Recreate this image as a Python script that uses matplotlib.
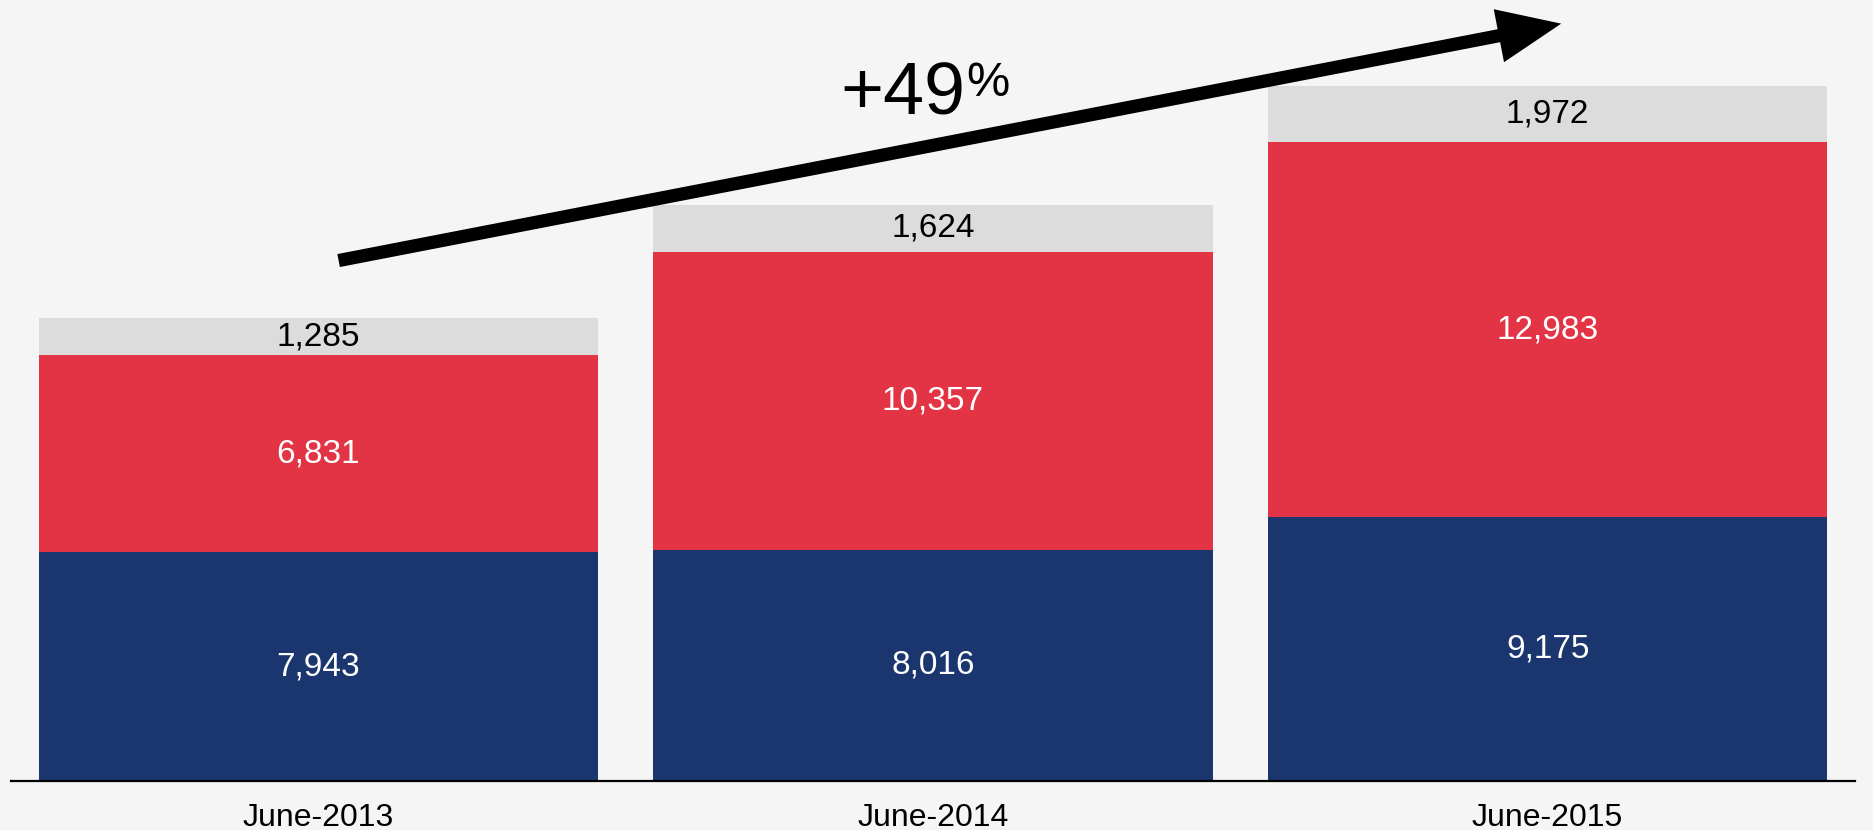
import numpy as np
import matplotlib
matplotlib.use("Agg")
import matplotlib.pyplot as plt
from matplotlib.patches import FancyArrowPatch

plt.rcParams['font.family'] = ['Liberation Sans', 'DejaVu Sans']

# data
periods = ["June-2013", "June-2014", "June-2015"]
blue_vals = [7943, 8016, 9175]
red_vals = [6831, 10357, 12983]
gray_vals = [1285, 1624, 1972]
growth_label = "+49"

BG = "#f5f5f5"
BLUE = "#1b356f"
RED = "#e33445"
GRAY = "#dcdcdc"

fig = plt.figure(figsize=(18.73, 8.30), dpi=100, facecolor=BG)
ax = fig.add_axes([11 / 1873, 49 / 830, 1844 / 1873, 781 / 830])
ax.set_facecolor(BG)

x = np.arange(len(periods))
width = 0.91
blue = np.array(blue_vals)
red = np.array(red_vals)
gray = np.array(gray_vals)

ax.bar(x, blue, width, color=BLUE, zorder=2)
ax.bar(x, red, width, bottom=blue, color=RED, zorder=2)
ax.bar(x, gray, width, bottom=blue + red, color=GRAY, zorder=2)

for i in x:
    ax.text(i, blue[i] / 2, f"{blue[i]:,}", ha="center", va="center",
            color="white", fontsize=24, zorder=3)
    ax.text(i, blue[i] + red[i] / 2, f"{red[i]:,}", ha="center", va="center",
            color="white", fontsize=24, zorder=3)
    ax.text(i, blue[i] + red[i] + gray[i] / 2, f"{gray[i]:,}", ha="center",
            va="center", color="black", fontsize=24, zorder=3)

totals = blue + red + gray
ax.set_xlim(-0.5, 2.5)
ax.set_ylim(0, 27100)

# growth arrow from the first bar up past the last one
tail = (x[0] + 0.033, totals[0] + 2000)
tip = (x[-1] + 0.022, totals[-1] + 2150)
arrow = FancyArrowPatch(tail, tip, arrowstyle="-|>,head_length=0.8,head_width=0.34",
                        mutation_scale=36, lw=9.5, color="black",
                        capstyle="butt", joinstyle="miter",
                        shrinkA=0, shrinkB=0, zorder=4)
ax.add_patch(arrow)

t = ax.text(0.85, 23800, growth_label, fontsize=53, ha="left", va="center",
            color="black")
fig.canvas.draw()
bb = t.get_window_extent()
ax.annotate("%", xy=(bb.x1, bb.y1), xycoords="figure pixels",
            xytext=(0, 0), textcoords="offset points",
            fontsize=35, ha="left", va="top", color="black")

ax.set_xticks(x)
ax.set_xticklabels(periods, fontsize=23)
ax.tick_params(axis="x", length=0, pad=16)
ax.set_yticks([])
for side in ["top", "left", "right"]:
    ax.spines[side].set_visible(False)
ax.spines["bottom"].set_linewidth(1.6)
ax.spines["bottom"].set_color("black")
ax.spines["bottom"].set_zorder(5)

fig.savefig("out.png", dpi=100, facecolor=BG)
